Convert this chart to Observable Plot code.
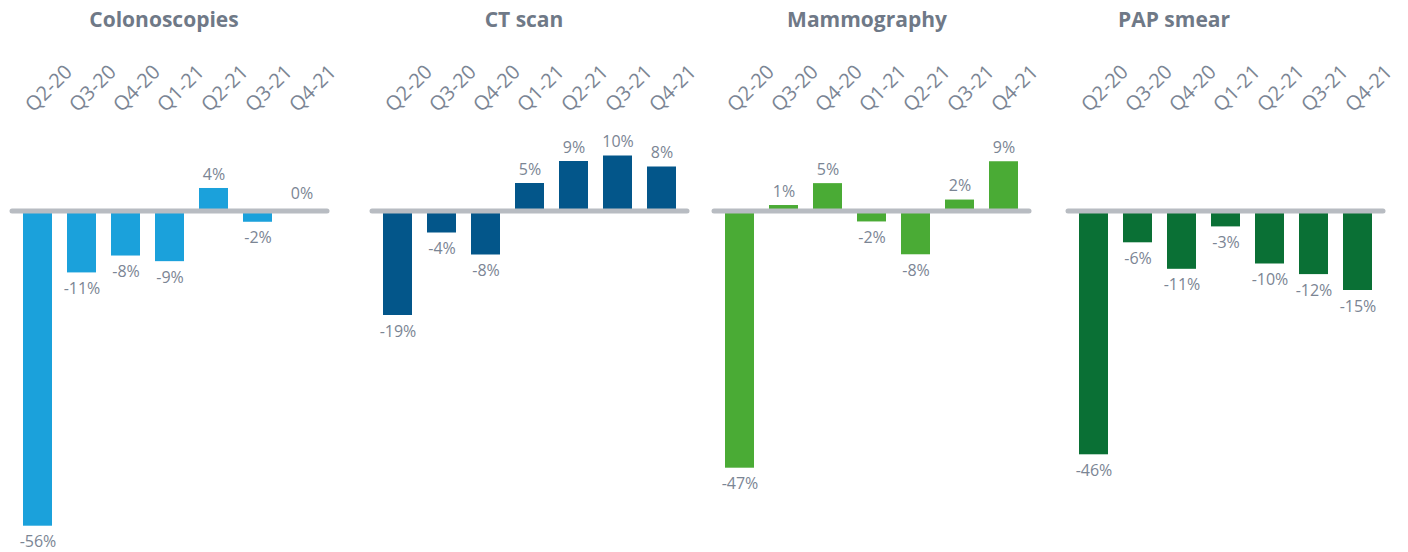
<!DOCTYPE html>
<html><head><meta charset="utf-8">
<script src="https://cdn.jsdelivr.net/npm/d3@7"></script>
<script src="https://cdn.jsdelivr.net/npm/@observablehq/plot@0.6"></script>
<style>
body{margin:0;background:#fff;}
#chart{position:relative;width:1408px;height:552px;overflow:hidden;font-family:"Open Sans",sans-serif;}
#chart svg{position:absolute;top:0;overflow:visible;}
</style></head><body><div id="chart"></div>
<script>
const quarters = ["Q2-20","Q3-20","Q4-20","Q1-21","Q2-21","Q3-21","Q4-21"];
const colonoscopies = [-56,-11,-8,-9,4,-2,0];
const ctScan = [-19,-4,-8,5,9,10,8];
const mammography = [-47,1,5,-2,-8,2,9];
const papSmear = [-46,-6,-11,-3,-10,-12,-15];
const titles = ["Colonoscopies","CT scan","Mammography","PAP smear"];
const colors = ["#1ba1db","#03568a","#4aab35","#0a7035"];

const panels = [
  {title: titles[0], values: colonoscopies, color: colors[0], left: 0,    bottom: 525.7, titleDx: -6},
  {title: titles[1], values: ctScan,        color: colors[1], left: 360,  bottom: 315,   titleDx: -6},
  {title: titles[2], values: mammography,   color: colors[2], left: 702,  bottom: 467.7, titleDx: -5},
  {title: titles[3], values: papSmear,      color: colors[3], left: 1056, bottom: 454.3, titleDx: -52}
];

const labelColor = "#7b8594";
const titleColor = "#6f7987";
const zeroY = 210.5;
const chart = document.getElementById("chart");

for (const p of panels) {
  const data = quarters.map((q, i) => ({q, v: p.values[i]}));
  const lo = d3.min(p.values);
  const svg = Plot.plot({
    width: 350,
    height: 552,
    marginLeft: 10,
    marginRight: 21,
    marginTop: 0,
    marginBottom: 0,
    style: {fontFamily: '"Open Sans", sans-serif', background: "transparent", overflow: "visible"},
    x: {domain: quarters, paddingInner: 0.333, paddingOuter: 0.211, axis: null},
    y: {domain: [lo, 0], range: [p.bottom, zeroY], axis: null},
    marks: [
      Plot.barY(data, {x: "q", y1: 0, y2: "v", fill: p.color}),
      Plot.ruleY([0], {stroke: "#b8bcc2", strokeWidth: 5, strokeLinecap: "round", insetLeft: 2, insetRight: 2}),
      Plot.text(data.filter(d => d.v > 0), {x: "q", y: "v", text: d => d.v + "%", dy: -14, fontSize: 16, fill: labelColor, lineAnchor: "middle"}),
      Plot.text(data.filter(d => d.v < 0), {x: "q", y: "v", text: d => d.v + "%", dy: 16, fontSize: 16, fill: labelColor, lineAnchor: "middle"}),
      Plot.text(data.filter(d => d.v === 0), {x: "q", y: "v", text: d => d.v + "%", dy: -17, fontSize: 16, fill: labelColor, lineAnchor: "middle"}),
      Plot.text(quarters, {x: d => d, frameAnchor: "top", dy: 88, dx: 11, rotate: -45, text: d => d, fontSize: 20, fill: labelColor, textAnchor: "middle", lineAnchor: "middle"}),
      Plot.text([p.title], {frameAnchor: "top", dy: 20, dx: p.titleDx, text: d => d, fontSize: 21, fontWeight: "bold", fill: titleColor, lineAnchor: "middle"})
    ]
  });
  svg.style.left = p.left + "px";
  chart.appendChild(svg);
}
</script>
</body></html>
